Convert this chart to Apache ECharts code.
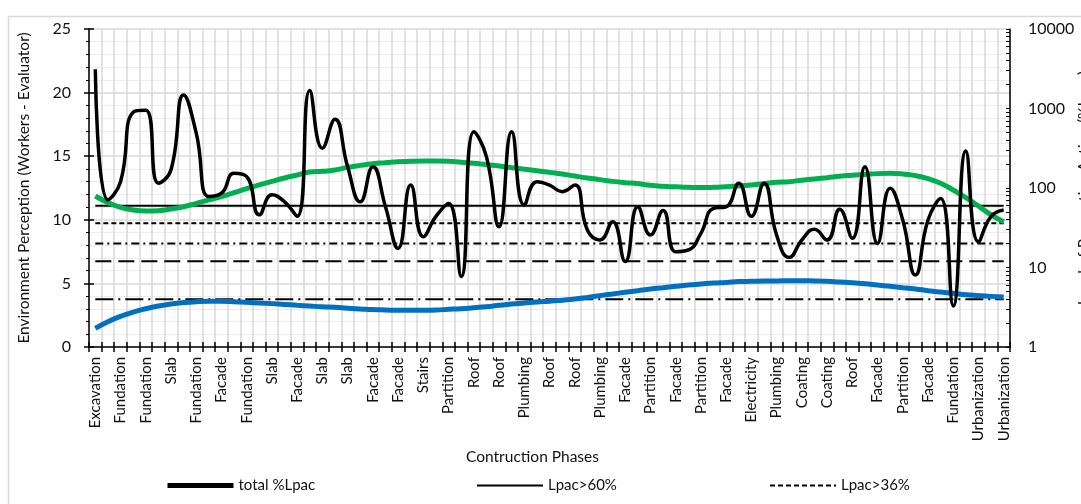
<!DOCTYPE html>
<html>
<head>
<meta charset="utf-8">
<title>Contruction Phases</title>
<script src="https://cdn.jsdelivr.net/npm/echarts@6/dist/echarts.min.js"></script>
<style>
  body { margin: 0; background: #fff; }
  #chart { width: 1081px; height: 504px; }
</style>
</head>
<body>
<div id="chart"></div>
<script>
  // labels shown under every second category (Excel skips one each time)
  var phaseLabels = ['Excavation', 'Fundation', 'Fundation', 'Slab', 'Fundation', 'Facade', 'Fundation',
    'Slab', 'Facade', 'Slab', 'Slab', 'Facade', 'Facade', 'Stairs', 'Partition', 'Roof', 'Roof',
    'Plumbing', 'Roof', 'Roof', 'Plumbing', 'Facade', 'Partition', 'Facade', 'Partition', 'Facade',
    'Electricity', 'Plumbing', 'Coating', 'Coating', 'Roof', 'Facade', 'Partition', 'Facade',
    'Fundation', 'Urbanization', 'Urbanization'];

  // total %Lpac (right log axis)
  var totalLpac = [3110, 71, 120, 900, 950, 115, 170, 1480, 490, 78, 86, 153, 139, 46, 82, 67, 44,
    1680, 316, 730, 185, 67, 185, 58, 17.4, 109, 24.4, 44, 64, 7.7, 510, 248, 32.6, 510, 61, 120,
    109, 90, 109, 29.6, 22.2, 37.7, 11.9, 58, 25.6, 52, 15.8, 16.6, 26.9, 55.5, 58, 115, 44, 115,
    25.6, 13.4, 22.2, 30.2, 22.2, 54, 23.3, 185, 20.1, 99, 39.5, 8.05, 39.5, 74, 3.28, 292, 21.1,
    44, 53];

  // trend curves on the left axis
  var workersTrend = [11.87, 11.35, 10.98, 10.77, 10.69, 10.72, 10.85, 11.03, 11.29, 11.56, 11.82,
    12.13, 12.45, 12.74, 13.02, 13.29, 13.52, 13.76, 13.81, 13.92, 14.12, 14.28, 14.41, 14.49,
    14.57, 14.6, 14.62, 14.62, 14.6, 14.52, 14.44, 14.33, 14.23, 14.1, 13.97, 13.86, 13.73, 13.6,
    13.44, 13.29, 13.16, 13.02, 12.92, 12.85, 12.71, 12.63, 12.59, 12.55, 12.53, 12.55, 12.6,
    12.66, 12.74, 12.84, 12.95, 13.0, 13.11, 13.21, 13.31, 13.42, 13.5, 13.57, 13.63, 13.65, 13.6,
    13.47, 13.23, 12.87, 12.34, 11.74, 11.08, 10.38, 9.85];
  var evaluatorTrend = [1.47, 1.99, 2.41, 2.75, 3.01, 3.22, 3.38, 3.49, 3.56, 3.59, 3.59, 3.56,
    3.51, 3.46, 3.41, 3.35, 3.28, 3.22, 3.16, 3.12, 3.04, 2.99, 2.94, 2.91, 2.88, 2.88, 2.88, 2.91,
    2.96, 3.01, 3.09, 3.17, 3.28, 3.38, 3.46, 3.54, 3.6, 3.68, 3.77, 3.9, 4.04, 4.17, 4.3, 4.43,
    4.56, 4.66, 4.77, 4.87, 4.95, 5.03, 5.08, 5.14, 5.16, 5.19, 5.19, 5.21, 5.21, 5.19, 5.16, 5.11,
    5.06, 4.98, 4.87, 4.77, 4.66, 4.56, 4.43, 4.32, 4.22, 4.11, 4.04, 3.98, 3.93];

  // Lpac thresholds (right log axis)
  var lpac60 = 60;
  var lpac36 = 36;
  var lpac20 = 20;
  var lpac12 = 12;
  var lpac4 = 4;

  var leftTicks = [0, 5, 10, 15, 20, 25];
  var rightTicks = [1, 10, 100, 1000, 10000];

  // one category per data point, label on every other one
  var categories = [];
  for (var i = 0; i < totalLpac.length; i++) {
    categories.push(i % 2 === 0 ? phaseLabels[i / 2] : '');
  }
  function flat(v) {
    return categories.map(function () { return v; });
  }
  // minor log ticks 2..9 in each decade
  var logTicks = [];
  for (var d = 0; d < rightTicks.length - 1; d++) {
    for (var k = 1; k < 10; k++) logTicks.push(rightTicks[d] * k);
  }
  logTicks.push(rightTicks[rightTicks.length - 1]);

  var font = 'Lato, "Open Sans", sans-serif';
  var ink = '#111';

  var myChart = echarts.init(document.getElementById('chart'));

  function threshold(name, value, type, width) {
    return {
      name: name, type: 'line', yAxisIndex: 1, data: flat(value),
      symbol: 'none', silent: true, z: 3,
      itemStyle: { color: '#000' },
      lineStyle: { color: '#000', width: width, type: type }
    };
  }

  function legendAt(name, left, width) {
    return {
      data: [name], left: left, top: 473, itemWidth: 66, itemHeight: 14, itemGap: 10,
      selectedMode: false,
      itemStyle: { opacity: 0 },
      lineStyle: { width: width },
      textStyle: { fontFamily: font, fontSize: 15, color: ink }
    };
  }

  var option = {
    animation: false,
    textStyle: { fontFamily: font },
    graphic: [{
      type: 'rect', silent: true, z: -1,
      shape: { x: 8.5, y: 16.5, width: 1100, height: 540 },
      style: { fill: null, stroke: '#d9d9d9', lineWidth: 1.5 }
    }],
    legend: [
      legendAt('total %Lpac', 160, 5),
      legendAt('Lpac>60%', 471, 2),
      legendAt('Lpac>36%', 764, 2)
    ],
    grid: { left: 89, right: 71, top: 29, bottom: 157, containLabel: false, outerBoundsMode: 'none' },
    xAxis: [
      {
        type: 'category', data: categories, position: 'bottom',
        name: 'Contruction Phases', nameLocation: 'middle', nameGap: 100,
        nameTextStyle: { fontSize: 15.5, color: ink, padding: [0, 34, 0, 0] },
        axisLine: { lineStyle: { color: '#000', width: 1.5 } },
        axisTick: { show: true, interval: 0, length: 5, lineStyle: { color: '#000', width: 1.5 } },
        axisLabel: { interval: 0, rotate: 90, margin: 10, fontSize: 15, color: ink },
        splitLine: { show: true, interval: 0, lineStyle: { color: '#d9d9d9', width: 1.5 } }
      },
      {
        // inner half of the crossing ticks
        type: 'category', data: categories, position: 'bottom',
        axisLine: { show: false },
        axisTick: { show: true, inside: true, interval: 0, length: 5, lineStyle: { color: '#000', width: 1.5 } },
        axisLabel: { show: false },
        splitLine: { show: false }
      }
    ],
    yAxis: [
      {
        type: 'value', min: leftTicks[0], max: leftTicks[leftTicks.length - 1], interval: 5,
        position: 'left',
        name: 'Environment Perception (Workers - Evaluator)', nameLocation: 'middle',
        nameGap: 57, nameRotate: 90, nameMoveOverlap: false,
        nameTextStyle: { fontSize: 15.5, color: ink },
        axisLine: { show: true, lineStyle: { color: '#000', width: 1.5 } },
        axisTick: { show: true, length: 5, lineStyle: { color: '#000', width: 1.5 } },
        minorTick: { show: true, splitNumber: 5, length: 3, lineStyle: { color: '#000', width: 1 } },
        axisLabel: { margin: 18, fontSize: 16, color: ink },
        splitLine: { show: true, lineStyle: { color: '#d9d9d9', width: 1.5 } },
        minorSplitLine: { show: true, lineStyle: { color: '#ececec', width: 1 } }
      },
      {
        type: 'log', logBase: 10, min: rightTicks[0], max: rightTicks[rightTicks.length - 1],
        position: 'right',
        name: 'Level of Preventive Action (%Lpac)', nameLocation: 'middle',
        nameGap: 66, nameRotate: 90, nameMoveOverlap: false,
        nameTextStyle: { fontSize: 15.5, color: ink },
        axisLine: { show: true, lineStyle: { color: '#000', width: 1.5 } },
        axisTick: { show: true, inside: true, length: 4, customValues: logTicks,
          lineStyle: { color: '#000', width: 1 } },
        axisLabel: { margin: 18, fontSize: 16, color: ink,
          formatter: function (v) { return String(Math.round(v)); } },
        splitLine: { show: false }
      },
      {
        // inner half of the crossing ticks on the left axis
        type: 'value', min: leftTicks[0], max: leftTicks[leftTicks.length - 1], interval: 5,
        position: 'left',
        axisLine: { show: false },
        axisTick: { show: true, inside: true, length: 5, lineStyle: { color: '#000', width: 1.5 } },
        axisLabel: { show: false },
        splitLine: { show: false }
      }
    ],
    series: [
      threshold('Lpac>60%', lpac60, 'solid', 2),
      threshold('Lpac>36%', lpac36, [5, 3], 2),
      threshold('Lpac>20%', lpac20, [8, 4, 2, 4], 2),
      threshold('Lpac>12%', lpac12, [16, 7], 2),
      threshold('Lpac>4%', lpac4, [18, 5, 2, 5], 2),
      {
        name: 'Workers', type: 'line', yAxisIndex: 0, data: workersTrend,
        smooth: true, symbol: 'none', silent: true, z: 4,
        lineStyle: { color: '#00b050', width: 5 }
      },
      {
        name: 'Evaluator', type: 'line', yAxisIndex: 0, data: evaluatorTrend,
        smooth: true, symbol: 'none', silent: true, z: 4,
        lineStyle: { color: '#0070c0', width: 5 }
      },
      {
        name: 'total %Lpac', type: 'line', yAxisIndex: 1, data: totalLpac,
        smooth: 0.5, symbol: 'none', silent: true, z: 5,
        itemStyle: { color: '#000' },
        lineStyle: { color: '#000', width: 3.5 }
      }
    ]
  };
  myChart.setOption(option);
</script>
</body>
</html>
